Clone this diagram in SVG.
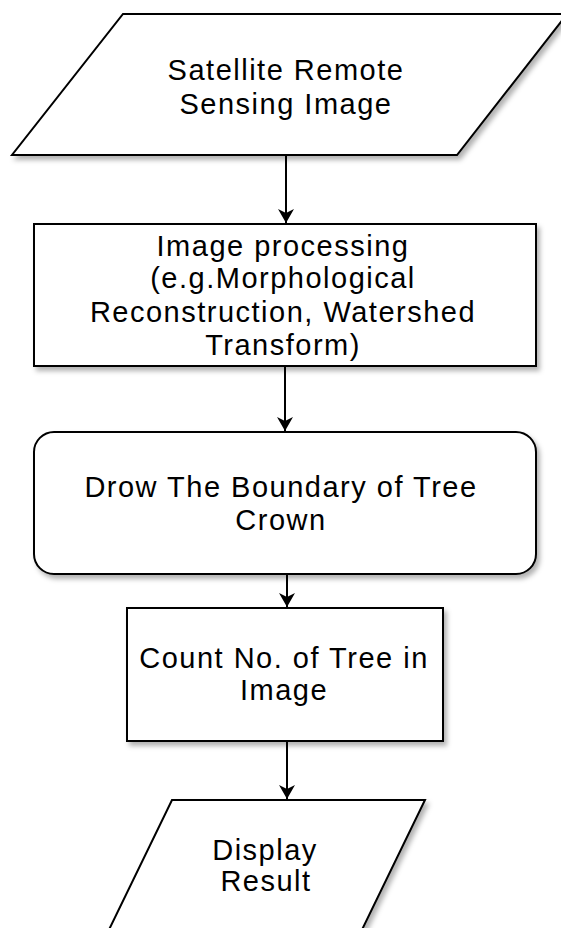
<svg xmlns="http://www.w3.org/2000/svg" width="561" height="928" viewBox="0 0 561 928">
<style>
.shape{fill:#fff;stroke:#000;stroke-width:2;filter:url(#sh)}
.lbl{font-family:"Liberation Sans",Arial,sans-serif;font-size:29px;letter-spacing:1.5px;fill:#000;text-anchor:middle}
.edge{stroke:#000;stroke-width:2;fill:none;marker-end:url(#ah)}
</style>
<defs>
<filter id="sh" x="-10%" y="-10%" width="130%" height="130%">
<feDropShadow dx="3" dy="4" stdDeviation="2.5" flood-color="#000" flood-opacity="0.3"/>
</filter>
<marker id="ah" viewBox="0 0 14 16" refX="14" refY="8" markerWidth="14" markerHeight="16" markerUnits="userSpaceOnUse" orient="auto">
<path d="M0,0 L14,8 L0,16 L4,8 Z" fill="#000"/>
</marker>
</defs>
<rect width="561" height="928" fill="#fff"/>
<g id="connectors">
<line class="edge" x1="286" y1="155" x2="286" y2="223"/>
<line class="edge" x1="285" y1="366" x2="285" y2="431"/>
<line class="edge" x1="287" y1="574" x2="287" y2="607"/>
<line class="edge" x1="287" y1="741" x2="287" y2="799"/>
</g>
<g id="n1">
<polygon class="shape" points="123,14 567,14 457,155 12,155"/>
<text class="lbl" x="286" y="80">Satellite Remote</text>
<text class="lbl" x="286" y="114">Sensing Image</text>
</g>
<g id="n2">
<rect class="shape" x="34" y="224" width="502" height="142"/>
<text class="lbl" x="283" y="256">Image processing</text>
<text class="lbl" x="283" y="288">(e.g.Morphological</text>
<text class="lbl" x="283" y="322">Reconstruction, Watershed</text>
<text class="lbl" x="283" y="355">Transform)</text>
</g>
<g id="n3">
<rect class="shape" x="34" y="432" width="502" height="142" rx="20" ry="20"/>
<text class="lbl" x="281" y="497">Drow The Boundary of Tree</text>
<text class="lbl" x="281" y="530">Crown</text>
</g>
<g id="n4">
<rect class="shape" x="127" y="608" width="316" height="133"/>
<text class="lbl" x="284" y="668">Count No. of Tree in</text>
<text class="lbl" x="284" y="700">Image</text>
</g>
<g id="n5">
<polygon class="shape" points="172,800 425,800 357,940 104,940"/>
<text class="lbl" x="265" y="860">Display</text>
<text class="lbl" x="266" y="891">Result</text>
</g>
</svg>
